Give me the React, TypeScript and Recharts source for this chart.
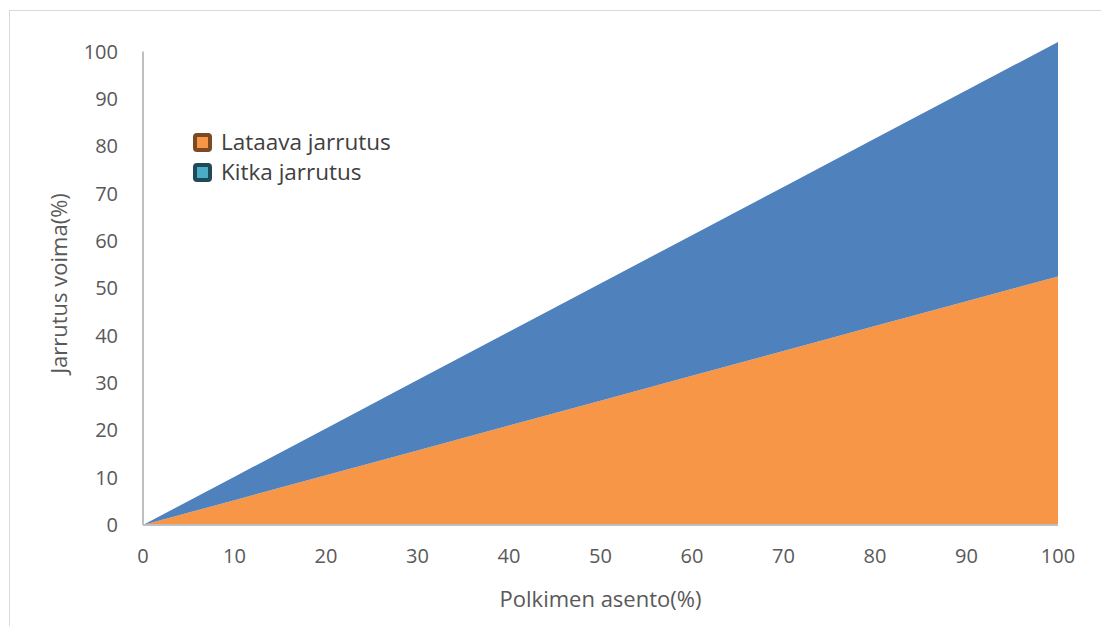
import { AreaChart, Area, XAxis, YAxis, ReferenceLine } from 'recharts';

// pedal position (%) and the two stacked braking components (%)
const pedal = [0, 10, 20, 30, 40, 50, 60, 70, 80, 90, 100];
const regenerative = [0, 5.25, 10.5, 15.75, 21, 26.25, 31.5, 36.75, 42, 47.25, 52.5];
const friction = [0, 4.95, 9.9, 14.85, 19.8, 24.75, 29.7, 34.65, 39.6, 44.55, 49.5];
const yTicks = [0, 10, 20, 30, 40, 50, 60, 70, 80, 90, 100];

const data = pedal.map((p, i) => ({ x: p, lataava: regenerative[i], kitka: friction[i] }));

const FONT = '"Open Sans", "Liberation Sans", sans-serif';
const TEXT = '#595959';

const legendItems = [
  { label: 'Lataava jarrutus', fill: '#f79646', border: '#7a4a22' },
  { label: 'Kitka jarrutus', fill: '#4bacc6', border: '#1f4b58' },
];

function ChartLegend() {
  return (
    <div style={{ position: 'absolute', left: 193, top: 127, fontFamily: FONT }}>
      {legendItems.map((it) => (
        <div key={it.label} style={{ display: 'flex', alignItems: 'center', height: 30 }}>
          <span
            style={{
              width: 11,
              height: 11,
              background: it.fill,
              border: `4px solid ${it.border}`,
              borderRadius: 4,
              marginRight: 9,
            }}
          />
          <span style={{ fontSize: 22.5, color: '#404040', lineHeight: '30px' }}>{it.label}</span>
        </div>
      ))}
    </div>
  );
}

export default function App() {
  return (
    <div style={{ position: 'absolute', left: 0, top: 0, width: 1101, height: 626, background: '#fff' }}>
      <div
        style={{
          position: 'absolute',
          left: 9,
          top: 10,
          width: 1100,
          height: 620,
          borderLeft: '1px solid #d9d9d9',
          borderTop: '1px solid #d9d9d9',
        }}
      />
      <AreaChart
        width={1101}
        height={626}
        data={data}
        margin={{ top: 42, right: 43, bottom: 41, left: 0 }}
        style={{ position: 'absolute', left: 0, top: 0 }}
      >
        <XAxis
          dataKey="x"
          type="number"
          domain={[0, 100]}
          ticks={pedal}
          tickLine={false}
          axisLine={{ stroke: '#bfbfbf', strokeWidth: 2 }}
          tick={{ fill: TEXT, fontSize: 20, fontFamily: FONT }}
          tickMargin={18}
          height={60}
          label={{ value: 'Polkimen asento(%)', position: 'insideBottom', offset: -22, fill: TEXT, fontSize: 22, fontFamily: FONT }}
        />
        <YAxis
          type="number"
          domain={[0, 102]}
          ticks={yTicks}
          tickLine={false}
          axisLine={false}
          tick={{ fill: TEXT, fontSize: 20, fontFamily: FONT }}
          tickMargin={19}
          width={143}
          label={{ value: 'Jarrutus voima(%)', angle: -90, position: 'insideLeft', offset: 59, fill: TEXT, fontSize: 22, fontFamily: FONT, style: { textAnchor: 'middle' } }}
        />
        <ReferenceLine segment={[{ x: 0, y: 0 }, { x: 0, y: 100 }]} stroke="#bfbfbf" strokeWidth={2} />
        <Area
          type="linear"
          dataKey="lataava"
          stackId="a"
          stroke="none"
          fill="#f79646"
          fillOpacity={1}
          isAnimationActive={false}
        />
        <Area
          type="linear"
          dataKey="kitka"
          stackId="a"
          stroke="none"
          fill="#4f81bd"
          fillOpacity={1}
          isAnimationActive={false}
        />
      </AreaChart>
      <ChartLegend />
    </div>
  );
}
